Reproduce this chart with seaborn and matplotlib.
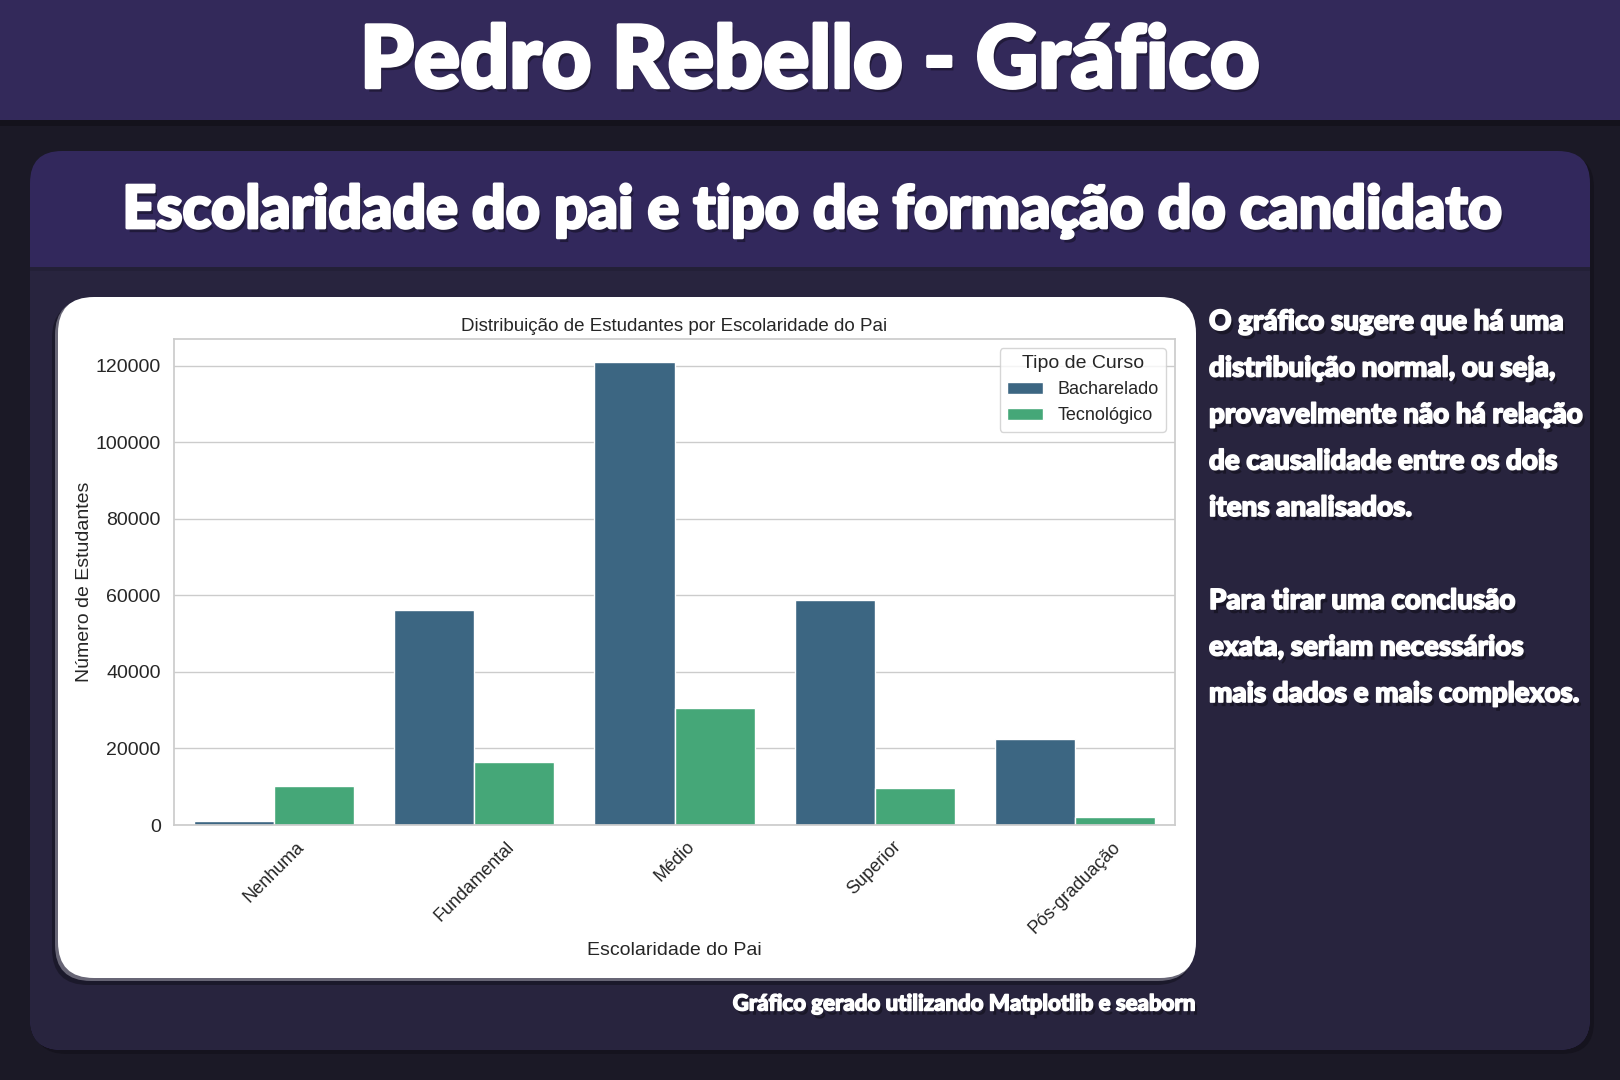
import matplotlib
matplotlib.use("Agg")
import matplotlib.pyplot as plt
import matplotlib.patheffects as pe
from matplotlib.patches import FancyBboxPatch, Rectangle
import pandas as pd
import seaborn as sns

# dados
niveis = ["Nenhuma", "Fundamental", "Médio", "Superior", "Pós-graduação"]
bacharelado = [1100, 56200, 121000, 58900, 22600]
tecnologico = [10200, 16400, 30500, 9600, 2200]
tipos = ["Bacharelado", "Tecnológico"]

titulo = "Pedro Rebello - Gráfico"
subtitulo = "Escolaridade do pai e tipo de formação do candidato"
titulo_grafico = "Distribuição de Estudantes por Escolaridade do Pai"
texto_lateral = [
    "O gráfico sugere que há uma",
    "distribuição normal, ou seja,",
    "provavelmente não há relação",
    "de causalidade entre os dois",
    "itens analisados.",
    "",
    "Para tirar uma conclusão",
    "exata, seriam necessários",
    "mais dados e mais complexos.",
]
rodape = "Gráfico gerado utilizando Matplotlib e seaborn"

df = pd.DataFrame({
    "Escolaridade do Pai": niveis * 2,
    "Número de Estudantes": bacharelado + tecnologico,
    "Tipo de Curso": [tipos[0]] * len(niveis) + [tipos[1]] * len(niveis),
})

sns.set_theme(style="whitegrid")
plt.rcParams['font.family'] = ['Liberation Sans', 'DejaVu Sans']

W, H = 1620, 1080
fig = plt.figure(figsize=(W / 100, H / 100), dpi=100, facecolor="#1b1926")
tr = fig.dpi_scale_trans


def box(x0, y0, x1, y1, color, r=0.0, z=-10, alpha=1.0):
    # caixa em pixels (origem no topo)
    p = FancyBboxPatch((x0 / 100, (H - y1) / 100), (x1 - x0) / 100, (y1 - y0) / 100,
                       boxstyle=f"round,pad=0,rounding_size={r / 100}",
                       transform=tr, facecolor=color, edgecolor="none",
                       zorder=z, alpha=alpha)
    fig.add_artist(p)


def rect(x0, y0, x1, y1, color, z=-10, alpha=1.0):
    p = Rectangle((x0 / 100, (H - y1) / 100), (x1 - x0) / 100, (y1 - y0) / 100,
                  transform=tr, facecolor=color, edgecolor="none", zorder=z, alpha=alpha)
    fig.add_artist(p)


def efeito(lw):
    # sombra suave + contorno para engrossar a fonte
    return [pe.SimplePatchShadow(offset=(2, -3), shadow_rgbFace="black", alpha=0.35),
            pe.Stroke(linewidth=lw, foreground="white"), pe.Normal()]


fonte_titulo = ['Lato', 'DejaVu Sans']

# faixa do topo
rect(0, 0, W, 126, "#000000", z=-19, alpha=0.25)
rect(0, 0, W, 120, "#33295a", z=-18)
fig.text(810 / W, 1 - 63 / H, titulo, ha="center", va="center", color="white",
         fontsize=62, fontweight="black", family=fonte_titulo, path_effects=efeito(2.5))

# cartao
box(34, 155, 1594, 1054, "#121019", r=32, z=-17, alpha=0.6)
box(30, 151, 1590, 1050, "#32285c", r=32, z=-16)
box(30, 267, 1590, 1050, "#28243e", r=32, z=-15)
rect(30, 267, 1590, 320, "#28243e", z=-15)
rect(30, 267, 1590, 271, "#000000", z=-14, alpha=0.1)
fig.text(811 / W, 1 - 211 / H, subtitulo, ha="center", va="center", color="white",
         fontsize=42.6, fontweight="black", family=fonte_titulo, path_effects=efeito(2))

# painel branco com sombra
box(52, 302, 1192, 985, "#000000", r=36, z=-13, alpha=0.3)
box(55, 299, 1194, 981, "#9a98a8", r=36, z=-12, alpha=0.6)
box(58, 297, 1196, 978, "white", r=36, z=-11)

ax = fig.add_axes([174 / W, 1 - 825 / H, (1175 - 174) / W, (825 - 339) / H])
sns.barplot(data=df, x="Escolaridade do Pai", y="Número de Estudantes",
            hue="Tipo de Curso", palette="viridis", ax=ax)
ax.set_title(titulo_grafico, fontsize=13.5, color=".15")
ax.set_xlabel("Escolaridade do Pai", fontsize=14, labelpad=4)
ax.set_ylabel("Número de Estudantes", fontsize=14, labelpad=2)
ax.tick_params(axis="y", labelsize=14)
ax.tick_params(axis="x", labelsize=13)
plt.setp(ax.get_xticklabels(), rotation=45)
leg = ax.legend(title="Tipo de Curso", loc="upper right", fontsize=13, title_fontsize=14)

# texto lateral
for i, linha in enumerate(texto_lateral):
    fig.text(1209 / W, 1 - (322 + i * 46.5) / H, linha, ha="left", va="center",
             color="white", fontsize=20, fontweight="black", family=fonte_titulo,
             path_effects=efeito(1.2))

fig.text(1195 / W, 1 - 1004 / H, rodape, ha="right", va="center", color="white",
         fontsize=16, fontweight="black", family=fonte_titulo, path_effects=efeito(1))

fig.savefig("out.png", dpi=100, facecolor=fig.get_facecolor())
